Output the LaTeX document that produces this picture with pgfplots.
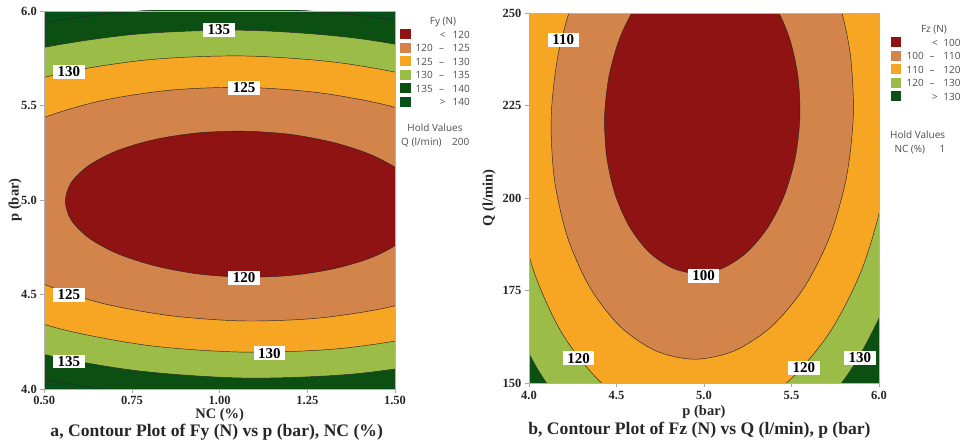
\documentclass[border=0pt]{standalone}
\usepackage{fontspec}
\setmainfont{Liberation Serif}
\newfontfamily\legfont{Open Sans}
\usepackage{pgfplots}
\pgfplotsset{compat=1.18}

\definecolor{cRed}{HTML}{8F1313}
\definecolor{cTan}{HTML}{D2844B}
\definecolor{cOra}{HTML}{F6A623}
\definecolor{cLgr}{HTML}{9BBC46}
\definecolor{cDgr}{HTML}{0B4F13}
\definecolor{cDgrB}{HTML}{07501A}
\definecolor{legtext}{HTML}{4D4D4D}
\definecolor{txt}{HTML}{262626}

\pgfplotsset{
  cstyle/.style={
    scale only axis, axis on top, anchor=south west,
    axis line style={gray!60, line width=0.7pt},
    tick align=outside, major tick length=4pt,
    tick style={gray!70, line width=0.6pt},
    xtick pos=bottom, ytick pos=left,
    tick label style={font=\bfseries\fontsize{12.5}{13}\selectfont, text=txt},
    label style={font=\bfseries\fontsize{14.5}{15}\selectfont, text=txt},
  },
  ctr/.style={draw=black!85, line width=0.45pt, smooth, mark=none},
}
\tikzset{lab/.style={fill=white, inner xsep=4.5pt, inner ysep=1.8pt, font=\bfseries\fontsize{15}{15}\selectfont, text=black}}
% legend row helpers: y = row centre (pt)
\newcommand{\rng}[5]{% #1 x of left number right edge, #2 x dash, #3 x right edge, #4 y, #5 left, #6 right
  \node[anchor=base east] at (#1,#4-3.6pt) {#5};\node[anchor=base] at (#2,#4-3.6pt) {–};}
\begin{document}
\begin{tikzpicture}
\useasboundingbox (0,0) rectangle (963pt,444pt);

% ---------------- left plot ----------------
\begin{axis}[cstyle, at={(44.3pt,55pt)}, width=350.7pt, height=378pt,
  xmin=0.5, xmax=1.5, ymin=4, ymax=6,
  xtick={0.5,0.75,1,1.25,1.5}, xticklabels={0.50,0.75,1.00,1.25,1.50},
  ytick={4,4.5,5,5.5,6}, yticklabels={4.0,4.5,5.0,5.5,6.0},
  axis background/.style={fill=cDgrB},
  xlabel={NC (\%)}, ylabel={p (bar)},
  xlabel style={at={(axis description cs:0.5,-0.0688)}, anchor=center},
  ylabel style={at={(axis description cs:-0.0835,0.5)}, anchor=center},
]
% Fy = 140
\addplot[ctr, fill=cDgr] coordinates {(2.443,4.937) (2.397,5.207) (2.259,5.462) (2.041,5.683) (1.757,5.857) (1.425,5.971) (1.070,6.017) (0.715,5.992) (0.383,5.898) (0.099,5.742) (-0.117,5.533) (-0.257,5.287) (-0.303,5.019) (-0.257,4.749) (-0.117,4.494) (0.099,4.273) (0.383,4.099) (0.715,3.985) (1.070,3.939) (1.425,3.964) (1.757,4.058) (2.041,4.214) (2.259,4.423) (2.397,4.670) (2.443,4.937)};
% Fy = 135
\addplot[ctr, fill=cLgr] coordinates {(2.286,4.942) (2.245,5.181) (2.123,5.407) (1.930,5.603) (1.678,5.757) (1.385,5.857) (1.070,5.898) (0.755,5.876) (0.462,5.793) (0.210,5.654) (0.017,5.470) (-0.105,5.251) (-0.146,5.015) (-0.105,4.775) (0.017,4.550) (0.210,4.353) (0.462,4.199) (0.755,4.099) (1.070,4.058) (1.385,4.080) (1.678,4.163) (1.930,4.302) (2.123,4.486) (2.245,4.705) (2.286,4.942)};
% Fy = 130
\addplot[ctr, fill=cOra] coordinates {(2.106,4.947) (2.071,5.151) (1.967,5.343) (1.803,5.510) (1.588,5.641) (1.338,5.727) (1.070,5.762) (0.802,5.743) (0.552,5.672) (0.338,5.554) (0.173,5.397) (0.069,5.211) (0.034,5.009) (0.069,4.805) (0.173,4.613) (0.338,4.446) (0.552,4.315) (0.802,4.229) (1.070,4.195) (1.338,4.213) (1.588,4.284) (1.803,4.402) (1.967,4.559) (2.071,4.745) (2.106,4.947)};
% Fy = 125
\addplot[ctr, fill=cTan] coordinates {(1.887,4.954) (1.859,5.114) (1.777,5.266) (1.647,5.397) (1.478,5.501) (1.281,5.568) (1.070,5.596) (0.859,5.581) (0.662,5.525) (0.493,5.432) (0.363,5.308) (0.281,5.162) (0.253,5.003) (0.281,4.842) (0.363,4.690) (0.493,4.559) (0.662,4.455) (0.859,4.388) (1.070,4.360) (1.281,4.375) (1.478,4.431) (1.647,4.524) (1.777,4.648) (1.859,4.795) (1.887,4.954)};
% Fy = 120
\addplot[ctr, fill=cRed] coordinates {(1.580,4.963) (1.563,5.063) (1.512,5.158) (1.431,5.240) (1.325,5.304) (1.202,5.347) (1.070,5.364) (0.938,5.355) (0.815,5.320) (0.709,5.262) (0.628,5.184) (0.577,5.093) (0.560,4.993) (0.577,4.893) (0.628,4.798) (0.709,4.716) (0.815,4.652) (0.938,4.609) (1.070,4.592) (1.202,4.601) (1.325,4.636) (1.431,4.694) (1.512,4.772) (1.563,4.863) (1.580,4.963)};
\node[lab] at (axis cs:0.998,5.900) {135};
\node[lab] at (axis cs:0.570,5.679) {130};
\node[lab] at (axis cs:1.070,5.594) {125};
\node[lab] at (axis cs:1.070,4.589) {120};
\node[lab] at (axis cs:0.570,4.499) {125};
\node[lab] at (axis cs:1.142,4.189) {130};
\node[lab] at (axis cs:0.570,4.145) {135};
\end{axis}

% ---------------- right plot ----------------
\begin{axis}[cstyle, at={(529pt,60.7pt)}, width=350pt, height=370pt,
  xmin=4, xmax=6, ymin=150, ymax=250,
  xtick={4,4.5,5,5.5,6}, xticklabels={4.0,4.5,5.0,5.5,6.0},
  ytick={150,175,200,225,250}, yticklabels={150,175,200,225,250},
  axis background/.style={fill=cDgr},
  xlabel={p (bar)}, ylabel={Q (l/min)},
  xlabel style={at={(axis description cs:0.5,-0.0768)}, anchor=center},
  ylabel style={at={(axis description cs:-0.114,0.5)}, anchor=center},
]
% Fz = 130
\addplot[ctr, fill=cLgr] coordinates {(5.053,318.8) (4.722,315.5) (4.410,305.9) (4.137,290.5) (3.922,270.5) (3.781,247.2) (3.721,222.2) (3.748,197.2) (3.860,173.9) (4.048,153.9) (4.301,138.5) (4.601,128.9) (4.927,125.6) (5.258,128.9) (5.570,138.5) (5.843,153.9) (6.058,173.9) (6.199,197.2) (6.259,222.2) (6.232,247.2) (6.120,270.5) (5.932,290.5) (5.679,305.9) (5.379,315.5) (5.053,318.8)};
% Fz = 120
\addplot[ctr, fill=cOra] coordinates {(5.044,304.8) (4.761,302.0) (4.494,293.7) (4.261,280.6) (4.077,263.5) (3.956,243.6) (3.905,222.2) (3.928,200.8) (4.023,180.9) (4.185,163.8) (4.401,150.7) (4.657,142.4) (4.936,139.6) (5.219,142.4) (5.486,150.7) (5.719,163.8) (5.903,180.9) (6.024,200.8) (6.075,222.2) (6.052,243.6) (5.957,263.5) (5.795,280.6) (5.579,293.7) (5.323,302.0) (5.044,304.8)};
% Fz = 110
\addplot[ctr, fill=cTan] coordinates {(5.033,287.9) (4.808,285.65) (4.596,279.1) (4.410,268.65) (4.264,255.05) (4.168,239.2) (4.127,222.2) (4.145,205.2) (4.221,189.35) (4.350,175.75) (4.522,165.3) (4.726,158.75) (4.947,156.5) (5.172,158.75) (5.385,165.3) (5.570,175.75) (5.716,189.35) (5.812,205.2) (5.853,222.2) (5.835,239.2) (5.759,255.05) (5.630,268.65) (5.459,279.1) (5.255,285.65) (5.033,287.9)};
% Fz = 100
\addplot[ctr, fill=cRed] coordinates {(5.018,264.7) (4.872,263.25) (4.735,259.0) (4.615,252.25) (4.520,243.45) (4.458,233.2) (4.432,222.2) (4.444,211.2) (4.493,200.95) (4.576,192.15) (4.687,185.4) (4.819,181.15) (4.962,179.7) (5.108,181.15) (5.245,185.4) (5.365,192.15) (5.460,200.95) (5.522,211.2) (5.548,222.2) (5.536,233.2) (5.487,243.45) (5.404,252.25) (5.293,259.0) (5.161,263.25) (5.018,264.7)};
\node[lab] at (axis cs:4.196,242.8) {110};
\node[lab] at (axis cs:4.998,179.0) {100};
\node[lab] at (axis cs:4.284,156.8) {120};
\node[lab] at (axis cs:5.571,154.2) {120};
\node[lab] at (axis cs:5.890,156.9) {130};
\end{axis}

% ---------------- captions ----------------
\node[font=\bfseries\fontsize{17.6}{20}\selectfont, text=txt] at (216.7pt,12pt) {a, Contour Plot of Fy (N) vs p (bar), NC (\%)};
\node[font=\bfseries\fontsize{17.6}{20}\selectfont, text=txt] at (699.5pt,14pt) {b, Contour Plot of Fz (N) vs Q (l/min), p (bar)};

\begin{scope}[every node/.style={inner sep=0pt, font=\legfont\fontsize{10}{11}\selectfont, text=legtext}]
% ---------------- legend left ----------------
\node at (443pt,422.3pt) {Fy (N)};
\fill[cRed]  (400pt,404.5pt) rectangle (410.7pt,414.5pt);
\node[anchor=base] at (442.7pt,409.5pt-3.6pt) {<}; \node[anchor=base east] at (470pt,409.5pt-3.6pt) {120};
\fill[cTan]  (400pt,391pt) rectangle (410.7pt,401pt);
\rng{433pt}{441.7pt}{470pt}{396pt}{120}\node[anchor=base east] at (470pt,396pt-3.6pt) {125};
\fill[cOra]  (400pt,377.5pt) rectangle (410.7pt,387.5pt);
\rng{433pt}{441.7pt}{470pt}{382.5pt}{125}\node[anchor=base east] at (470pt,382.5pt-3.6pt) {130};
\fill[cLgr]  (400pt,364pt) rectangle (410.7pt,374pt);
\rng{433pt}{441.7pt}{470pt}{369pt}{130}\node[anchor=base east] at (470pt,369pt-3.6pt) {135};
\fill[cDgr]  (400pt,350.5pt) rectangle (410.7pt,360.5pt);
\rng{433pt}{441.7pt}{470pt}{355.5pt}{135}\node[anchor=base east] at (470pt,355.5pt-3.6pt) {140};
\fill[cDgrB] (400pt,337pt) rectangle (410.7pt,347pt);
\node[anchor=base] at (442.7pt,342pt-3.6pt) {>}; \node[anchor=base east] at (470pt,342pt-3.6pt) {140};
\node at (435pt,316.3pt) {Hold Values};
\node[anchor=base west] at (401pt,302.3pt-3.6pt) {Q (l/min)}; \node[anchor=base west] at (452pt,302.3pt-3.6pt) {200};

% ---------------- legend right ----------------
\node at (934pt,414.7pt) {Fz (N)};
\fill[cRed] (890.7pt,396.5pt) rectangle (900.7pt,406.5pt);
\node[anchor=base] at (935pt,401.5pt-3.6pt) {<}; \node[anchor=base east] at (960.7pt,401.5pt-3.6pt) {100};
\fill[cTan] (890.7pt,383pt) rectangle (900.7pt,393pt);
\rng{924pt}{932pt}{960.7pt}{388pt}{100}\node[anchor=base east] at (960.7pt,388pt-3.6pt) {110};
\fill[cOra] (890.7pt,369.5pt) rectangle (900.7pt,379.5pt);
\rng{924pt}{932pt}{960.7pt}{374.5pt}{110}\node[anchor=base east] at (960.7pt,374.5pt-3.6pt) {120};
\fill[cLgr] (890.7pt,356pt) rectangle (900.7pt,366pt);
\rng{924pt}{932pt}{960.7pt}{361pt}{120}\node[anchor=base east] at (960.7pt,361pt-3.6pt) {130};
\fill[cDgr] (890.7pt,342.5pt) rectangle (900.7pt,352.5pt);
\node[anchor=base] at (935pt,347.5pt-3.6pt) {>}; \node[anchor=base east] at (960.7pt,347.5pt-3.6pt) {130};
\node[anchor=west] at (890pt,309pt) {Hold Values};
\node[anchor=base west] at (894.3pt,295pt-3.6pt) {NC (\%)}; \node[anchor=base west] at (939.3pt,295pt-3.6pt) {1};
\end{scope}
\end{tikzpicture}
\end{document}
